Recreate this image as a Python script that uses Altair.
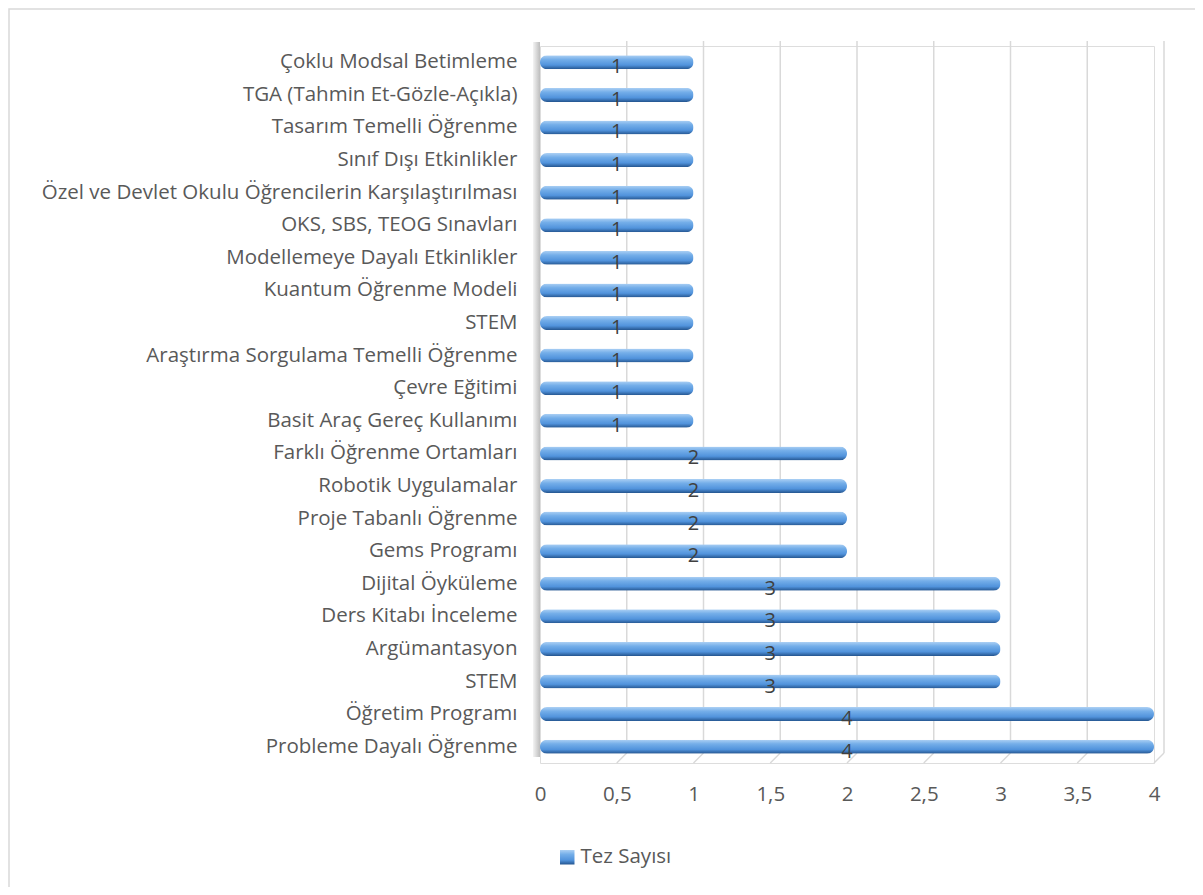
import altair as alt
import pandas as pd
import json

categories = [
    "Probleme Dayalı Öğrenme",
    "Öğretim Programı",
    "STEM",
    "Argümantasyon",
    "Ders Kitabı İnceleme",
    "Dijital Öyküleme",
    "Gems Programı",
    "Proje Tabanlı Öğrenme",
    "Robotik Uygulamalar",
    "Farklı Öğrenme Ortamları",
    "Basit Araç Gereç Kullanımı",
    "Çevre Eğitimi",
    "Araştırma Sorgulama Temelli Öğrenme",
    "STEM",
    "Kuantum Öğrenme Modeli",
    "Modellemeye Dayalı Etkinlikler",
    "OKS, SBS, TEOG Sınavları",
    "Özel ve Devlet Okulu Öğrencilerin Karşılaştırılması",
    "Sınıf Dışı Etkinlikler",
    "Tasarım Temelli Öğrenme",
    "TGA (Tahmin Et-Gözle-Açıkla)",
    "Çoklu Modsal Betimleme",
]
values = [4, 4, 3, 3, 3, 3, 2, 2, 2, 2, 1, 1, 1, 1, 1, 1, 1, 1, 1, 1, 1, 1]
series_name = "Tez Sayısı"
x_ticks = [0, 0.5, 1, 1.5, 2, 2.5, 3, 3.5, 4]
grid_ticks = [0.5, 1, 1.5, 2, 2.5, 3, 3.5, 4]

df = pd.DataFrame({
    "idx": list(range(len(categories))),
    "name": categories,
    "value": values,
    "series": [series_name] * len(categories),
})
df["half"] = df["value"] / 2
grid_df = pd.DataFrame({"tick": grid_ticks})

W, H = 614, 717
PL, PT, PR, PB = 532, 38, 41, 124
DEPTH = 10  # 3D back-wall offset in px

label_expr = json.dumps(categories, ensure_ascii=False) + "[datum.value]"

font = "Open Sans"
txt_color = "#595959"
fs = 20.5

y_enc = alt.Y(
    "idx:O",
    sort="descending",
    title=None,
    axis=alt.Axis(
        labelExpr=label_expr,
        labelFont=font,
        labelFontSize=fs,
        labelColor=txt_color,
        labelPadding=23,
        labelLimit=0,
        domain=False,
        ticks=False,
        grid=False,
    ),
    scale=alt.Scale(paddingInner=0.0, paddingOuter=0.0),
)

x_scale = alt.Scale(domain=[0, 4], nice=False, zero=True)

gradient = alt.Gradient(
    gradient="linear",
    stops=[
        alt.GradientStop(color="#acd0f4", offset=0),
        alt.GradientStop(color="#74aee9", offset=0.3),
        alt.GradientStop(color="#5193dc", offset=0.7),
        alt.GradientStop(color="#24558f", offset=1),
    ],
    x1=0, x2=0, y1=0, y2=1,
)

bars = alt.Chart(df).mark_bar(size=14, cornerRadius=7, fill=gradient).encode(
    x=alt.X(
        "value:Q",
        scale=x_scale,
        title=None,
        axis=alt.Axis(
            values=x_ticks,
            labelExpr="replace(format(datum.value, ''), '.', ',')",
            labelFont=font,
            labelFontSize=fs,
            labelColor=txt_color,
            labelPadding=21,
            labelFlush=False,
            domain=False,
            ticks=False,
            grid=False,
        ),
    ),
    y=y_enc,
    opacity=alt.Opacity(
        "series:N",
        scale=alt.Scale(domain=[series_name], range=[1]),
        legend=alt.Legend(
            title=None,
            orient="none",
            legendX=17,
            legendY=801,
            symbolType="square",
            symbolFillColor="#5193dc",
            symbolStrokeColor="#2f6aa8",
            symbolSize=210,
            symbolOpacity=1,
            labelFont=font,
            labelFontSize=fs,
            labelColor=txt_color,
            labelOffset=3,
        ),
    ),
)

labels = alt.Chart(df).mark_text(
    font=font, fontSize=20, color="#404040", dy=5
).encode(
    x=alt.X("half:Q", scale=x_scale),
    y=y_enc,
    text=alt.Text("value:Q"),
)

grid_scale = alt.Scale(domain=[0, 4], nice=False, zero=True, range=[DEPTH, W + DEPTH])

grid = alt.Chart(grid_df).mark_rule(color="#d9d9d9", strokeWidth=1.5).encode(
    x=alt.X("tick:Q", scale=grid_scale, axis=None),
    y=alt.value(-5),
    y2=alt.value(H - 10),
)
feet = alt.Chart(grid_df).mark_point(
    shape="M0,0L-1,1", size=400, stroke="#d9d9d9", strokeWidth=1.5,
    filled=False, opacity=1,
).encode(
    x=alt.X("tick:Q", scale=grid_scale, axis=None),
    y=alt.value(H - 10),
)

wall_grad = alt.Gradient(
    gradient="linear",
    stops=[
        alt.GradientStop(color="#f4f4f4", offset=0),
        alt.GradientStop(color="#bdbdbd", offset=1),
    ],
    x1=0, x2=1, y1=0, y2=0,
)

deco = pd.DataFrame({"k": [0]})
wall = alt.Chart(deco).mark_rect(fill=wall_grad).encode(
    x=alt.value(-7), x2=alt.value(0), y=alt.value(-4), y2=alt.value(H - 6)
)
border = alt.Chart(deco).mark_rect(
    fillOpacity=0, stroke="#d9d9d9", strokeWidth=1.5
).encode(
    x=alt.value(-PL + 1), x2=alt.value(W + PR + 40),
    y=alt.value(-PT + 1), y2=alt.value(H + PB + 40),
)

front = alt.layer(bars, labels)
back = alt.layer(grid, feet)

chart = alt.layer(border, back, wall, front).resolve_scale(
    x="independent"
).properties(
    width=W, height=H,
    padding={"left": PL, "top": PT, "right": PR, "bottom": PB},
    autosize=alt.AutoSizeParams(type="none"),
).configure_view(stroke=None).configure(background="white")

chart.save("out.html", embed_options={"renderer": "svg", "actions": False})
